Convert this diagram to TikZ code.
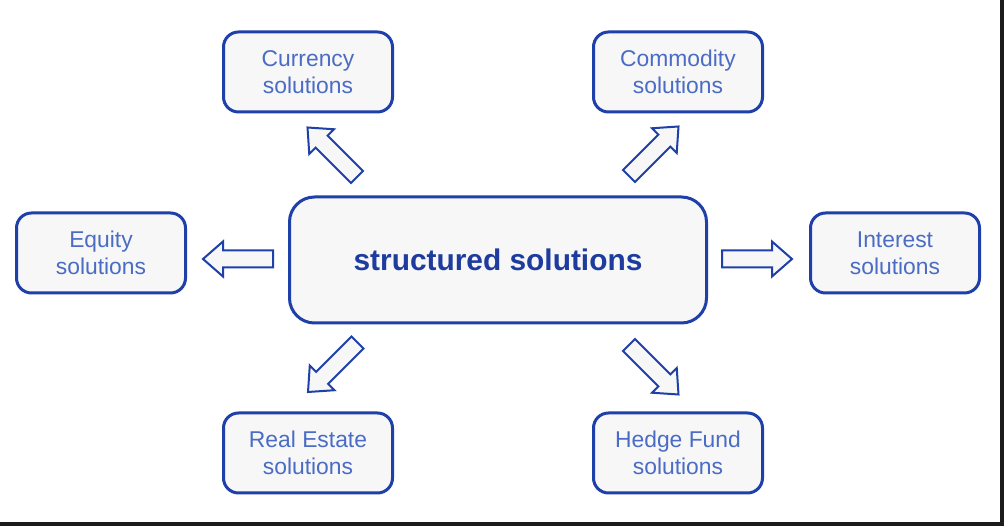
\documentclass[tikz,border=0pt]{standalone}
\usepackage{fontspec}
\setmainfont{Liberation Sans}
\usetikzlibrary{positioning,calc}

\definecolor{frameblue}{HTML}{1E40A8}
\definecolor{textblue}{HTML}{4A6CC4}
\definecolor{hubblue}{HTML}{1E3C9E}
\definecolor{boxfill}{HTML}{F7F7F7}
\definecolor{edgedark}{HTML}{1C1C1C}

\tikzset{
  pics/blockarrow/.style={code={
    \draw[frameblue,fill=boxfill,line width=0.04cm,line join=miter]
      (0,-0.17) -- (1.0,-0.17) -- (1.0,-0.35) -- (1.4,0)
      -- (1.0,0.35) -- (1.0,0.17) -- (0,0.17) -- cycle;
  }},
}

\begin{document}
\begin{tikzpicture}[
  solbox/.style={draw=frameblue,fill=boxfill,line width=0.06cm,rounded corners=0.3cm,
                 minimum width=3.38cm,minimum height=1.6cm,align=center,
                 text=textblue,font=\fontsize{13}{15.5}\selectfont},
  hubbox/.style={draw=frameblue,fill=boxfill,line width=0.06cm,rounded corners=0.5cm,
                 minimum width=8.34cm,minimum height=2.52cm,
                 text=hubblue,font=\fontsize{17}{20}\selectfont\bfseries},
]

% Canvas and screenshot edge
\useasboundingbox (0,0) rectangle (20.08,-10.52);
\fill[white] (0,0) rectangle (20.08,-10.52);
\fill[edgedark] (20.0,0) rectangle (20.08,-10.52);
\fill[edgedark] (0,-10.44) rectangle (20.08,-10.52);

% Central box
\node[hubbox] (hub) at (9.96,-5.2) {structured solutions};

% Solution boxes
\node[solbox] (cur) at (6.16,-1.44) {Currency\\solutions};
\node[solbox] (com) at (13.56,-1.44) {Commodity\\solutions};
\node[solbox] (equ) at (2.02,-5.06) {Equity\\solutions};
\node[solbox] (int) at (17.9,-5.06) {Interest\\solutions};
\node[solbox] (rea) at (6.16,-9.06) {Real Estate\\solutions};
\node[solbox] (hed) at (13.56,-9.06) {Hedge Fund\\solutions};

% Block arrows
\pic[rotate=180] at ($(hub.west)+(-0.3,0.02)$) {blockarrow};
\pic at ($(hub.east)+(0.28,0.02)$) {blockarrow};
\pic[rotate=135] at (7.14,-3.54) {blockarrow};
\pic[rotate=45] at (12.58,-3.52) {blockarrow};
\pic[rotate=225] at (7.15,-6.85) {blockarrow};
\pic[rotate=-45] at (12.58,-6.9) {blockarrow};

\end{tikzpicture}
\end{document}
